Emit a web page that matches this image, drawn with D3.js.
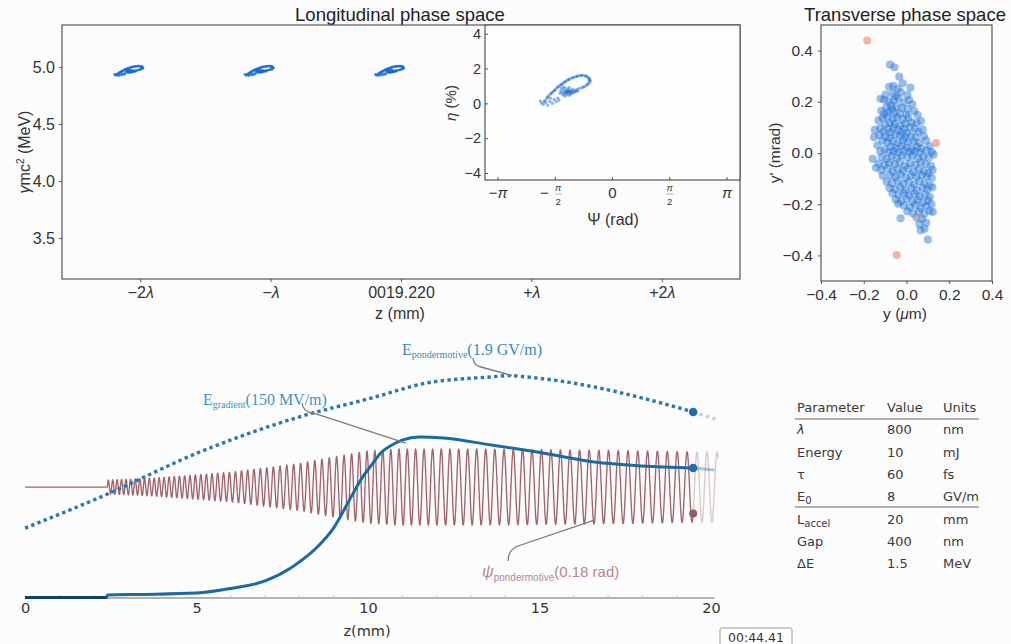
<!DOCTYPE html>
<html>
<head>
<meta charset="utf-8">
<script src="https://cdn.jsdelivr.net/npm/d3@7"></script>
<style>
  body { margin: 0; background: #fcfcfc; }
  svg { display: block; }
</style>
</head>
<body>
<svg id="chart" width="1011" height="644"></svg>
<script>
// ---------- Longitudinal phase space ----------
const lonTicks = [-2, -1, 0, 1, 2];
const lonTickLabels = ["−2λ", "−λ", "0019.220", "+λ", "+2λ"];
const energyTicks = [3.5, 4.0, 4.5, 5.0];
const bunchCenters = [-2.08, -1.08, -0.08];   // bunch positions in units of λ
const energyRef = 4.93;                         // MeV, reference energy of the bunch

// ---------- Inset: bunch in (Ψ, η) ----------
const psiTicks = [-Math.PI, -Math.PI / 2, 0, Math.PI / 2, Math.PI];
const psiTickLabels = ["−π", "−π/2", "0", "π/2", "π"];
const etaTicks = [-4, -2, 0, 2, 4];
// macro-particles: [Ψ (rad), η (%)]
const bunchPsiEta = [
  [-1.88,0.10],[-1.85,0.18],[-1.80,0.30],[-1.76,0.42],[-1.71,0.52],[-1.66,0.62],[-1.62,0.70],[-1.57,0.80],
  [-1.52,0.90],[-1.47,0.98],[-1.43,1.06],[-1.38,1.13],[-1.33,1.20],[-1.28,1.28],[-1.23,1.35],[-1.18,1.40],
  [-1.12,1.46],[-1.06,1.50],[-1.00,1.55],[-0.94,1.58],[-0.88,1.61],[-0.82,1.62],[-0.76,1.60],[-0.71,1.56],
  [-0.66,1.48],[-0.63,1.40],[-0.61,1.31],[-0.62,1.22],[-0.66,1.12],[-0.71,1.03],[-0.77,0.96],[-0.84,0.90],
  [-0.91,0.86],
  [-1.78,0.36],[-1.68,0.58],[-1.59,0.74],[-1.50,0.94],[-1.40,1.08],[-1.30,1.24],[-1.20,1.36],[-1.09,1.47],
  [-0.97,1.55],[-0.85,1.58],[-0.73,1.55],[-0.65,1.44],[-0.64,1.30],[-0.69,1.10],[-0.80,0.94],
  [-1.42,0.72],[-1.38,0.62],[-1.35,0.78],[-1.33,0.55],[-1.31,0.68],[-1.29,0.86],[-1.28,0.60],[-1.26,0.72],
  [-1.25,0.50],[-1.24,0.64],[-1.22,0.80],[-1.21,0.58],[-1.20,0.70],[-1.18,0.46],[-1.17,0.62],[-1.15,0.75],
  [-1.14,0.55],[-1.12,0.68],[-1.10,0.82],[-1.09,0.60],[-1.07,0.72],[-1.05,0.64],[-1.02,0.76],[-1.00,0.68],
  [-0.97,0.80],[-0.95,0.71],[-1.30,0.42],[-1.36,0.48],[-1.44,0.58],[-1.40,0.88],[-1.34,0.95],[-1.19,0.92],
  [-1.27,0.66],[-1.23,0.70],[-1.16,0.66],
  [-1.95,0.02],[-1.90,-0.06],[-1.83,0.05],[-1.78,-0.10],[-1.72,0.12],[-1.65,0.00],[-1.60,0.22],[-1.55,0.10],
  [-1.50,0.30],[-1.47,0.18],[-1.98,0.14],[-1.70,0.30]
];

// ---------- Transverse phase space ----------
const transTicks = [-0.4, -0.2, 0.0, 0.2, 0.4];
// particles: [y (µm), y' (mrad)]
const beamYYp = [
  [-0.077,0.345],[-0.056,0.335],[-0.034,0.298],[-0.062,0.262],[-0.081,0.258],[-0.041,0.251],[0.018,0.255],
  [-0.018,0.272],[-0.098,0.228],[-0.064,0.232],[-0.027,0.238],[0.004,0.226],[-0.05,0.221],
  [-0.121,0.212],[-0.105,0.208],[-0.083,0.201],[-0.06,0.205],[-0.037,0.213],[-0.012,0.198],[0.012,0.207],
  [0.027,0.19],[-0.072,0.186],[-0.094,0.178],[-0.046,0.182],[-0.022,0.176],[0.006,0.171],[-0.118,0.165],
  [-0.083,0.161],[-0.056,0.158],[-0.031,0.154],[0.036,0.163],[-0.067,0.17],[0.052,0.148],[-0.001,0.15],
  [-0.104,0.152],
  [-0.131,0.128],[-0.112,0.137],[-0.09,0.142],[-0.064,0.133],[-0.044,0.14],[-0.018,0.131],[0.009,0.138],
  [0.024,0.12],[0.048,0.118],[-0.078,0.118],[-0.1,0.112],[-0.055,0.113],[-0.03,0.108],[-0.005,0.115],
  [0.068,0.125],[-0.123,0.097],[-0.086,0.093],[-0.062,0.099],[-0.039,0.09],[-0.011,0.094],[0.017,0.1],
  [0.039,0.095],[0.075,0.092],[-0.108,0.083],[-0.073,0.08],[-0.023,0.082],[0.003,0.078],[0.056,0.083],
  [-0.148,0.09],
  [-0.152,0.062],[-0.127,0.07],[-0.098,0.064],[-0.079,0.059],[-0.052,0.071],[-0.031,0.066],[-0.006,0.06],
  [0.021,0.068],[0.044,0.061],[0.081,0.066],[-0.113,0.048],[-0.09,0.041],[-0.063,0.046],[-0.04,0.038],
  [-0.016,0.05],[0.008,0.042],[0.033,0.045],[0.06,0.04],[0.092,0.048],[-0.136,0.03],[-0.074,0.025],
  [-0.05,0.018],[-0.024,0.028],[0.001,0.021],[0.026,0.015],[0.049,0.024],[0.07,0.018],[0.108,0.026],
  [-0.102,0.014],[-0.123,0.006],[-0.084,0.003],[-0.061,0.008],[-0.036,0.002],[-0.011,0.01],[0.015,0.004],
  [0.038,0.007],[0.063,0.002],[0.094,0.01],[0.118,0.004],
  [-0.158,-0.023],[-0.115,-0.016],[-0.093,-0.024],[-0.069,-0.012],[-0.046,-0.02],[-0.022,-0.009],
  [0.003,-0.017],[0.028,-0.011],[0.053,-0.021],[0.079,-0.014],[0.104,-0.019],[0.127,-0.006],
  [-0.131,-0.041],[-0.104,-0.047],[-0.079,-0.038],[-0.056,-0.044],[-0.031,-0.036],[-0.008,-0.049],
  [0.017,-0.04],[0.042,-0.046],[0.067,-0.036],[0.09,-0.043],[0.114,-0.05],[-0.118,-0.067],[-0.088,-0.061],
  [-0.064,-0.072],[-0.041,-0.063],[-0.017,-0.07],[0.008,-0.061],[0.033,-0.074],[0.058,-0.064],
  [0.081,-0.071],[0.103,-0.078],[0.122,-0.066],[-0.143,-0.058],
  [-0.111,-0.089],[-0.077,-0.087],[-0.052,-0.094],[-0.027,-0.083],[-0.003,-0.097],[0.021,-0.088],
  [0.046,-0.095],[0.071,-0.086],[0.096,-0.092],[0.118,-0.098],[-0.093,-0.112],[-0.068,-0.118],
  [-0.041,-0.109],[-0.015,-0.121],[0.011,-0.113],[0.036,-0.124],[0.06,-0.11],[0.085,-0.119],
  [0.108,-0.127],[-0.08,-0.137],[-0.054,-0.141],[-0.029,-0.133],[-0.004,-0.146],[0.023,-0.138],
  [0.049,-0.147],[0.074,-0.136],[0.097,-0.143],[0.121,-0.134],
  [-0.066,-0.158],[-0.038,-0.163],[-0.014,-0.157],[0.012,-0.166],[0.037,-0.16],[0.062,-0.169],
  [0.087,-0.162],[0.109,-0.171],[-0.051,-0.182],[-0.025,-0.188],[0.002,-0.179],[0.028,-0.19],
  [0.052,-0.184],[0.078,-0.193],[0.101,-0.186],[-0.012,-0.205],[0.016,-0.212],[0.041,-0.203],
  [0.066,-0.214],[0.092,-0.207],[0.117,-0.2],[-0.039,-0.198],
  [0.004,-0.228],[0.031,-0.236],[0.058,-0.229],[0.083,-0.238],[0.108,-0.226],[0.047,-0.252],
  [0.072,-0.258],[-0.028,-0.255],[0.06,-0.278],[0.085,-0.296],[0.066,-0.302],[0.1,-0.338],
  [0.092,-0.272],[0.123,-0.23]
];
const lostParticles = [[-0.184,0.439],[0.138,0.039],[-0.046,-0.398],[0.054,-0.25]];

// ---------- Accelerator fields along z ----------
const zTicks = [0, 5, 10, 15, 20];
const zMinorTicks = [1,2,3,4,6,7,8,9,11,12,13,14,16,17,18,19];
const zNow = 19.48;   // current position along the structure (mm)

// accelerating gradient (normalised)
const gradZ = [0, 2.38, 2.40, 3.5, 5.0, 6.0, 7.0, 7.7, 8.0, 8.5, 9.0, 9.5, 9.8, 10.1, 10.4, 10.7, 11.0, 11.5, 12.2, 13.6, 15.1, 16.6, 18.0, 19.48];
const gradV = [0.002, 0.002, 0.012, 0.014, 0.019, 0.037, 0.066, 0.112, 0.14, 0.195, 0.272, 0.39, 0.46, 0.515, 0.566, 0.593, 0.612, 0.624, 0.62, 0.593, 0.562, 0.527, 0.512, 0.504];
const gradAheadZ = [19.48, 20.1];
const gradAheadV = [0.504, 0.496];

// ponderomotive field (normalised)
const pondZ = [0, 2.2, 5.1, 8.0, 10.1, 11.7, 13.6, 14.1, 14.6, 16.6, 18.0, 19.48];
const pondV = [0.271, 0.391, 0.566, 0.702, 0.775, 0.833, 0.857, 0.862, 0.857, 0.818, 0.775, 0.721];
const pondAheadZ = [19.48, 20.2];
const pondAheadV = [0.721, 0.69];

// ponderomotive phase: envelope amplitude and local period (mm) along z
const oscStart = 2.4;
const oscCenter = 0.43;
const oscZ = [2.4, 3.6, 5.1, 6.06, 8.0, 9.0, 10.0, 10.9, 13.0, 15.0, 18.0, 19.48, 20.2];
const oscAmp = [0.027, 0.033, 0.048, 0.058, 0.091, 0.116, 0.140, 0.147, 0.147, 0.145, 0.140, 0.136, 0.136];
const oscPeriod = [0.125, 0.14, 0.16, 0.175, 0.204, 0.215, 0.227, 0.24, 0.262, 0.276, 0.286, 0.29, 0.29];

// parameter table
const tableHeader = ["Parameter", "Value", "Units"];
const tableRows = [
  ["λ", "", "800", "nm"],
  ["Energy", "", "10", "mJ"],
  ["τ", "", "60", "fs"],
  ["E", "0", "8", "GV/m"],
  ["L", "accel", "20", "mm"],
  ["Gap", "", "400", "nm"],
  ["ΔE", "", "1.5", "MeV"]
];

const SANS = '"Liberation Sans", Arial, sans-serif';
const VERD = '"DejaVu Sans", Verdana, sans-serif';
const SERIF = '"Liberation Serif", "Times New Roman", serif';
const INK = "#333";
const FRAME = "#555";

const svg = d3.select("#chart").style("font-family", SANS);

function styleAxis(g, size) {
  g.attr("font-family", SANS).attr("font-size", size);
  g.selectAll(".tick text").attr("fill", INK);
  g.selectAll(".tick line").attr("stroke", FRAME);
  g.select(".domain").remove();
}

// ===== Longitudinal panel =====
const lx = d3.scaleLinear().domain([-2.6, 2.6]).range([62, 740]);
const ly = d3.scaleLinear().domain([3.14, 5.37]).range([279, 25]);
const gL = svg.append("g");

gL.append("text").attr("x", 400).attr("y", 21).attr("text-anchor", "middle")
  .attr("fill", "#222").style("font-size", "18.5px").text("Longitudinal phase space");

const axLx = gL.append("g").attr("transform", "translate(0,279)")
  .call(d3.axisBottom(lx).tickValues(lonTicks).tickSize(3).tickPadding(5)
    .tickFormat((d, i) => lonTickLabels[i]));
styleAxis(axLx, 16);
axLx.selectAll(".tick text").each(function (d, i) {
  const t = d3.select(this);
  t.text(null);
  lonTickLabels[i].split(/(λ)/).filter(p => p).forEach(p =>
    t.append("tspan").text(p).style("font-style", p === "λ" ? "italic" : null));
});

const axLy = gL.append("g").attr("transform", "translate(62,0)")
  .call(d3.axisLeft(ly).tickValues(energyTicks).tickSize(3).tickPadding(4).tickFormat(d3.format(".1f")));
styleAxis(axLy, 16);

gL.append("text").attr("x", 400).attr("y", 319).attr("text-anchor", "middle")
  .attr("fill", INK).style("font-size", "16px").text("z (mm)");
const yl = gL.append("text").attr("transform", "translate(30,152) rotate(-90)")
  .attr("text-anchor", "middle").attr("fill", INK).style("font-size", "16px");
yl.append("tspan").style("font-style", "italic").text("γ");
yl.append("tspan").text("mc");
yl.append("tspan").attr("dy", -6).style("font-size", "10px").text("2");
yl.append("tspan").attr("dy", 6).text(" (MeV)");

// bunches: same macro-particles seen at successive wavelengths
const psiMean = d3.mean(bunchPsiEta, d => d[0]);
bunchCenters.forEach(c => {
  gL.append("g").selectAll("circle").data(bunchPsiEta).join("circle")
    .attr("cx", d => lx(c + (d[0] - psiMean) / (2 * Math.PI)))
    .attr("cy", d => ly(energyRef * (1 + d[1] / 100)))
    .attr("r", 1.3).attr("fill", "#1a6cd2").attr("fill-opacity", 0.7);
});

gL.append("rect").attr("x", 62).attr("y", 25).attr("width", 678).attr("height", 254)
  .attr("fill", "none").attr("stroke", FRAME).attr("stroke-width", 1.2);

// ===== Inset (Ψ, η) =====
const ix = d3.scaleLinear().domain([-3.5, 3.5]).range([485, 740]);
const iy = d3.scaleLinear().domain([-4.4, 4.5]).range([180, 25]);
const gI = svg.append("g");
gI.append("rect").attr("x", 485).attr("y", 25).attr("width", 255).attr("height", 155)
  .attr("fill", "#fefefe").attr("stroke", FRAME).attr("stroke-width", 1.2);

const axIy = gI.append("g").attr("transform", "translate(485,0)")
  .call(d3.axisLeft(iy).tickValues(etaTicks).tickSizeInner(-3).tickSizeOuter(0).tickPadding(4)
    .tickFormat(d => d < 0 ? "−" + Math.abs(d) : String(d)));
styleAxis(axIy, 14.5);

gI.selectAll("g.psitick").data(psiTicks).join("g").attr("class", "psitick")
  .attr("transform", d => `translate(${ix(d)},180)`)
  .each(function (d, i) {
    const g = d3.select(this);
    const lab = psiTickLabels[i];
    g.append("line").attr("y1", 0).attr("y2", -3).attr("stroke", FRAME);
    if (lab.includes("/")) {
      const neg = lab.startsWith("−");
      const [num, den] = lab.replace("−", "").split("/");
      const fx = neg ? 3 : 0;
      if (neg) g.append("text").attr("x", -11).attr("y", 18).attr("text-anchor", "middle")
        .attr("fill", INK).style("font-size", "15px").text("−");
      g.append("text").attr("x", fx).attr("y", 11).attr("text-anchor", "middle")
        .attr("fill", INK).style("font-size", "9.5px").style("font-style", "italic").text(num);
      g.append("line").attr("x1", fx - 3.5).attr("x2", fx + 3.5).attr("y1", 14).attr("y2", 14)
        .attr("stroke", "#888").attr("stroke-width", 0.6);
      g.append("text").attr("x", fx).attr("y", 25).attr("text-anchor", "middle")
        .attr("fill", INK).style("font-size", "9.5px").text(den);
    } else {
      const t = g.append("text").attr("y", 18).attr("text-anchor", "middle")
        .attr("fill", INK).style("font-size", "15px");
      lab.split(/(π)/).filter(p => p).forEach(p =>
        t.append("tspan").text(p).style("font-style", p === "π" ? "italic" : null));
    }
  });

gI.append("text").attr("x", 613).attr("y", 225).attr("text-anchor", "middle")
  .attr("fill", INK).style("font-size", "16px").text("Ψ (rad)");
const el = gI.append("text").attr("transform", "translate(456,103) rotate(-90)")
  .attr("text-anchor", "middle").attr("fill", INK).style("font-size", "15px");
el.append("tspan").style("font-style", "italic").text("η");
el.append("tspan").text(" (%)");

gI.append("g").selectAll("circle").data(bunchPsiEta).join("circle")
  .attr("cx", d => ix(d[0])).attr("cy", d => iy(d[1]))
  .attr("r", 1.6).attr("fill", "#1a6cd2").attr("fill-opacity", 0.5);

// ===== Transverse panel =====
const tx = d3.scaleLinear().domain([-0.4, 0.4]).range([821, 992]);
const ty = d3.scaleLinear().domain([-0.5, 0.5]).range([281, 25]);
const gT = svg.append("g");
gT.append("text").attr("x", 905).attr("y", 21).attr("text-anchor", "middle")
  .attr("fill", "#222").style("font-size", "18.5px").text("Transverse phase space");

const axTx = gT.append("g").attr("transform", "translate(0,281)")
  .call(d3.axisBottom(tx).tickValues(transTicks).tickSize(3).tickPadding(5).tickFormat(d3.format(".1f")));
styleAxis(axTx, 15.5);
const axTy = gT.append("g").attr("transform", "translate(821,0)")
  .call(d3.axisLeft(ty).tickValues(transTicks).tickSize(3).tickPadding(5).tickFormat(d3.format(".1f")));
styleAxis(axTy, 15.5);

const xt = gT.append("text").attr("x", 905).attr("y", 319).attr("text-anchor", "middle")
  .attr("fill", INK).style("font-size", "15.5px");
xt.append("tspan").text("y (");
xt.append("tspan").style("font-style", "italic").text("μ");
xt.append("tspan").text("m)");
gT.append("text").attr("transform", "translate(780,153) rotate(-90)").attr("text-anchor", "middle")
  .attr("fill", INK).style("font-size", "15.5px").text("y' (mrad)");

gT.append("g").selectAll("circle").data(beamYYp).join("circle")
  .attr("cx", d => tx(d[0])).attr("cy", d => ty(d[1]))
  .attr("r", 4.1).attr("fill", "#1f72d4").attr("fill-opacity", 0.45);
gT.append("g").selectAll("circle").data(lostParticles).join("circle")
  .attr("cx", d => tx(d[0])).attr("cy", d => ty(d[1]))
  .attr("r", 4).attr("fill", "#ee9d86").attr("fill-opacity", (d, i) => i === 3 ? 0.35 : 0.75);

gT.append("rect").attr("x", 821).attr("y", 25).attr("width", 171).attr("height", 256)
  .attr("fill", "none").attr("stroke", FRAME).attr("stroke-width", 1.2);

// ===== Fields along the accelerator =====
const xB = d3.scaleLinear().domain([0, 20]).range([25, 711]);
const yB = d3.scaleLinear().domain([0, 1]).range([598, 340]);
const gB = svg.append("g");

// axis
gB.append("line").attr("x1", xB(0)).attr("x2", xB(20.1)).attr("y1", yB(0)).attr("y2", yB(0))
  .attr("stroke", "#9a9a9a").attr("stroke-width", 1.6);
gB.append("g").selectAll("line").data(zMinorTicks).join("line")
  .attr("x1", d => xB(d)).attr("x2", d => xB(d)).attr("y1", yB(0)).attr("y2", yB(0) - 3)
  .attr("stroke", "#c4c4c4");
const axB = gB.append("g").attr("transform", `translate(0,${yB(0)})`)
  .call(d3.axisBottom(xB).tickValues(zTicks).tickSize(0).tickPadding(5));
styleAxis(axB, 15);
axB.attr("font-family", VERD).attr("font-size", 14.5);
gB.append("text").attr("x", 367).attr("y", 636).attr("text-anchor", "middle")
  .attr("font-family", VERD).attr("fill", INK).style("font-size", "14.5px").text("z(mm)");

const smooth = d3.line().x(d => xB(d[0])).y(d => yB(d[1])).curve(d3.curveMonotoneX);
const straight = d3.line().x(d => xB(d[0])).y(d => yB(d[1]));

// ponderomotive phase oscillation (envelope and local period from the arrays above)
const ampAt = d3.scaleLinear().domain(oscZ).range(oscAmp).clamp(true);
const perAt = d3.scaleLinear().domain(oscZ).range(oscPeriod).clamp(true);
const oscPast = [[0, oscCenter], [oscStart, oscCenter]];
const oscAhead = [];
let phase = 0;
const dz = 0.004;
for (let z = oscStart; z <= 20.2 + 1e-9; z += dz) {
  const v = oscCenter + ampAt(z) * Math.sin(phase);
  if (z <= zNow) oscPast.push([z, v]);
  if (z >= zNow - dz) oscAhead.push([z, v]);
  phase += 2 * Math.PI * dz / perAt(z);
}
gB.append("path").attr("d", straight(oscAhead)).attr("fill", "none")
  .attr("stroke", "#ddc9cb").attr("stroke-width", 1.4);
gB.append("path").attr("d", straight(oscPast)).attr("fill", "none")
  .attr("stroke", "#a0646b").attr("stroke-width", 1.35);

// ponderomotive field (dotted)
gB.append("path").attr("d", smooth(d3.zip(pondAheadZ, pondAheadV))).attr("fill", "none")
  .attr("stroke", "#2a78ae").attr("stroke-opacity", 0.3).attr("stroke-width", 3.4)
  .attr("stroke-dasharray", "3.4,3.3");
gB.append("path").attr("d", smooth(d3.zip(pondZ, pondV))).attr("fill", "none")
  .attr("stroke", "#2a78ae").attr("stroke-width", 3.4).attr("stroke-dasharray", "3.4,3.3");

// accelerating gradient (solid)
gB.append("path").attr("d", straight(d3.zip(gradAheadZ, gradAheadV))).attr("fill", "none")
  .attr("stroke", "#1b6ba5").attr("stroke-opacity", 0.35).attr("stroke-width", 3);
gB.append("path").attr("d", smooth(d3.zip(gradZ, gradV))).attr("fill", "none")
  .attr("stroke", "#1b6aa4").attr("stroke-width", 3);
gB.append("path").attr("d", straight(d3.zip(gradZ.slice(0, 2), gradV.slice(0, 2)))).attr("fill", "none")
  .attr("stroke", "#123f66").attr("stroke-width", 3.2);

// current-position markers
const lastOsc = oscPast[oscPast.length - 1];
gB.append("circle").attr("cx", xB(zNow)).attr("cy", yB(pondV[pondV.length - 1])).attr("r", 4.3).attr("fill", "#1f6ea6");
gB.append("circle").attr("cx", xB(zNow)).attr("cy", yB(gradV[gradV.length - 1])).attr("r", 4.3).attr("fill", "#1f6ea6");
gB.append("circle").attr("cx", xB(lastOsc[0])).attr("cy", yB(lastOsc[1])).attr("r", 4).attr("fill", "#8c5c62");

// annotations
const lead = (p) => gB.append("path").attr("d", p).attr("fill", "none")
  .attr("stroke", "#7a7a7a").attr("stroke-width", 1.3);

const pondAnchor = [xB(14.2), yB(0.862)];
lead(`M473,358 Q474,366 481,367 L${pondAnchor[0]},${pondAnchor[1]}`);
const tP = gB.append("text").attr("x", 402).attr("y", 355).attr("font-family", SERIF)
  .attr("fill", "#3c88bd").style("font-size", "16px");
tP.append("tspan").text("E");
tP.append("tspan").attr("dy", 3).style("font-size", "10px").text("pondermotive");
tP.append("tspan").attr("dy", -3).text("(1.9 GV/m)");

const gradAnchor = [xB(11.1), yB(0.612) + 3];
lead(`M302,403 Q303,412 313,413 L${gradAnchor[0]},${gradAnchor[1]}`);
const tG = gB.append("text").attr("x", 203).attr("y", 405).attr("font-family", SERIF)
  .attr("fill", "#4890c2").style("font-size", "16px");
tG.append("tspan").text("E");
tG.append("tspan").attr("dy", 3).style("font-size", "10px").text("gradient");
tG.append("tspan").attr("dy", -3).text("(150 MV/m)");

const psiAnchor = [xB(16.6), yB(oscCenter - 0.128)];
lead(`M508,561 Q508,550 518,546 L${psiAnchor[0]},${psiAnchor[1]}`);
const tS = gB.append("text").attr("x", 482).attr("y", 577).attr("font-family", SANS)
  .attr("fill", "#b8878f").style("font-size", "15px");
tS.append("tspan").style("font-style", "italic").style("font-size", "16px").text("ψ");
tS.append("tspan").attr("dy", 4).style("font-size", "10px").text("pondermotive");
tS.append("tspan").attr("dy", -4).text("(0.18 rad)");

// ===== Parameter table =====
const gTab = svg.append("g").attr("font-family", VERD).style("font-size", "13px").attr("fill", "#3a3a3a");
const colX = [797, 887, 943];
const rowY = i => 412 + 22.3 * i;
tableHeader.forEach((h, j) => gTab.append("text").attr("x", colX[j]).attr("y", rowY(0)).text(h));
tableRows.forEach((r, i) => {
  const t = gTab.append("text").attr("x", colX[0]).attr("y", rowY(i + 1));
  t.append("tspan").style("font-style", r[0] === "λ" ? "italic" : null).text(r[0]);
  if (r[1]) t.append("tspan").attr("dy", 3).style("font-size", "10px").text(r[1]);
  gTab.append("text").attr("x", colX[1]).attr("y", rowY(i + 1)).text(r[2]);
  gTab.append("text").attr("x", colX[2]).attr("y", rowY(i + 1)).text(r[3]);
});
gTab.append("line").attr("x1", 795).attr("x2", 979).attr("y1", 419).attr("y2", 419)
  .attr("stroke", "#666").attr("stroke-width", 1.2);
gTab.append("line").attr("x1", 795).attr("x2", 979).attr("y1", 507).attr("y2", 507)
  .attr("stroke", "#666").attr("stroke-width", 1.2);

// ===== Playback clock =====
svg.append("rect").attr("x", 720).attr("y", 628).attr("width", 72).attr("height", 22).attr("rx", 2)
  .attr("fill", "#fff").attr("stroke", "#9a9a9a");
svg.append("text").attr("x", 756).attr("y", 642).attr("text-anchor", "middle")
  .attr("font-family", VERD).attr("fill", INK).style("font-size", "12.5px").text("00:44.41");
</script>
</body>
</html>
